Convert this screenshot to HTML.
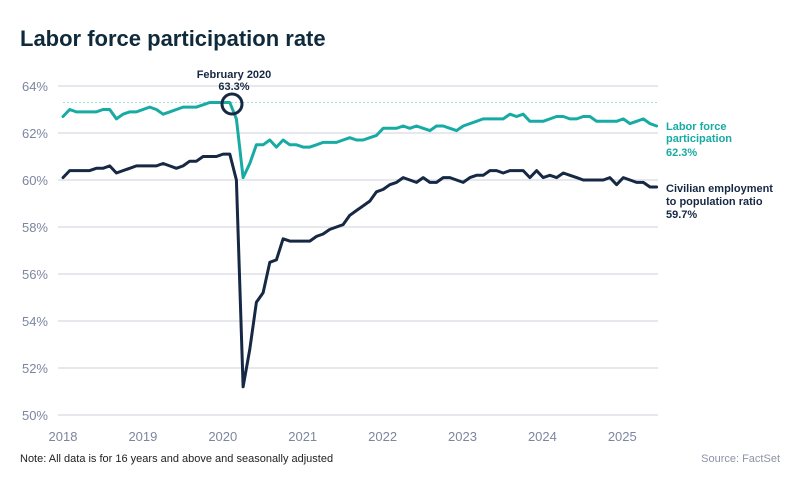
<!DOCTYPE html>
<html><head><meta charset="utf-8"><style>
body{margin:0;background:#fff;width:800px;height:488px;overflow:hidden;font-family:"Liberation Sans",sans-serif}
</style></head><body>
<svg id="s" width="800" height="488" xmlns="http://www.w3.org/2000/svg" font-family="Liberation Sans, sans-serif">
<text x="20" y="46" font-size="22" font-weight="bold" fill="#0f2a3a">Labor force participation rate</text>
<g id="grid"></g>
<line x1="63" x2="658" y1="102.5" y2="102.5" stroke="#9fe0dc" stroke-width="1" stroke-dasharray="2,2"/>
<path id="lf" fill="none" stroke="#17aba3" stroke-width="3" stroke-linejoin="round" stroke-linecap="round"/>
<path id="ep" fill="none" stroke="#162844" stroke-width="3" stroke-linejoin="round" stroke-linecap="round"/>
<circle cx="232" cy="104" r="10" fill="none" stroke="#162844" stroke-width="3"/>
<text x="234" y="78" font-size="11" font-weight="bold" fill="#162844" text-anchor="middle">February 2020</text>
<text x="234" y="90" font-size="11" font-weight="bold" fill="#162844" text-anchor="middle">63.3%</text>
<g font-size="11" font-weight="bold" fill="#17aba3">
<text x="666" y="130">Labor force</text><text x="666" y="142">participation</text><text x="666" y="156">62.3%</text></g>
<g font-size="11" font-weight="bold" fill="#162844">
<text x="666" y="192">Civilian employment</text><text x="666" y="205">to population ratio</text><text x="666" y="218">59.7%</text></g>
<text x="20" y="462" font-size="11" fill="#222">Note: All data is for 16 years and above and seasonally adjusted</text>
<text x="780" y="462" font-size="11" fill="#8a93a6" text-anchor="end">Source: FactSet</text>
</svg>
<script>
var g=document.getElementById('grid'),h='';
for(var v=50;v<=64;v+=2){var y=415-(v-50)*23.5;h+='<line x1="58" x2="658" y1="'+y+'" y2="'+y+'" stroke="#dfe1e8" stroke-width="1.5"/><text x="48" y="'+(y+5)+'" font-size="13" fill="#7d86a0" text-anchor="end">'+v+'%</text>';}
for(var yr=2018;yr<=2025;yr++){var x=63+(yr-2018)*79.9;h+='<text x="'+x+'" y="441" font-size="13" fill="#7d86a0" text-anchor="middle">'+yr+'</text>';}
g.innerHTML=h;
var lf=[62.7,63.0,62.9,62.9,62.9,62.9,63.0,63.0,62.6,62.8,62.9,62.9,
63.0,63.1,63.0,62.8,62.9,63.0,63.1,63.1,63.1,63.2,63.3,63.3,
63.3,63.3,62.6,60.1,60.7,61.5,61.5,61.7,61.4,61.7,61.5,61.5,
61.4,61.4,61.5,61.6,61.6,61.6,61.7,61.8,61.7,61.7,61.8,61.9,
62.2,62.2,62.2,62.3,62.2,62.3,62.2,62.1,62.3,62.3,62.2,62.1,
62.3,62.4,62.5,62.6,62.6,62.6,62.6,62.8,62.7,62.8,62.5,62.5,
62.5,62.6,62.7,62.7,62.6,62.6,62.7,62.7,62.5,62.5,62.5,62.5,
62.6,62.4,62.5,62.6,62.4,62.3];
var ep=[60.1,60.4,60.4,60.4,60.4,60.5,60.5,60.6,60.3,60.4,60.5,60.6,
60.6,60.6,60.6,60.7,60.6,60.5,60.6,60.8,60.8,61.0,61.0,61.0,
61.1,61.1,60.0,51.2,52.8,54.8,55.2,56.5,56.6,57.5,57.4,57.4,
57.4,57.4,57.6,57.7,57.9,58.0,58.1,58.5,58.7,58.9,59.1,59.5,
59.6,59.8,59.9,60.1,60.0,59.9,60.1,59.9,59.9,60.1,60.1,60.0,
59.9,60.1,60.2,60.2,60.4,60.4,60.3,60.4,60.4,60.4,60.1,60.4,
60.1,60.2,60.1,60.3,60.2,60.1,60.0,60.0,60.0,60.0,60.1,59.8,
60.1,60.0,59.9,59.9,59.7,59.7];
function p(a){return a.map(function(v,i){return (i?'L':'M')+(63+i*6.67).toFixed(1)+','+(415-(v-50)*23.5).toFixed(1)}).join('');}
document.getElementById('lf').setAttribute('d',p(lf));
document.getElementById('ep').setAttribute('d',p(ep));
</script>
</body></html>
